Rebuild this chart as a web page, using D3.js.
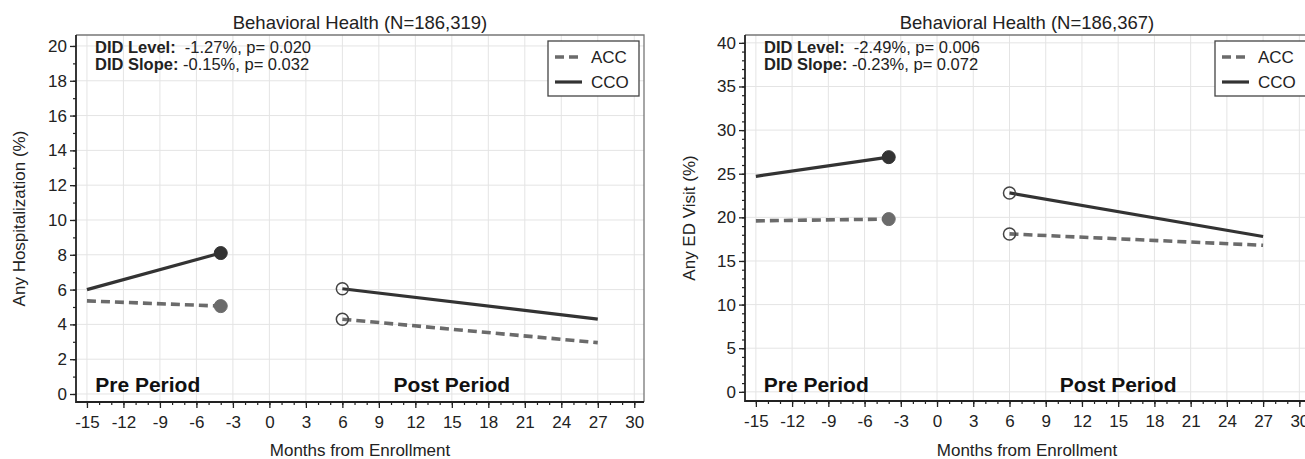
<!DOCTYPE html>
<html><head><meta charset="utf-8">
<script src="https://cdn.jsdelivr.net/npm/d3@7"></script>
<style>
html,body{margin:0;padding:0;background:#fff;}
svg{display:block;font-family:"Liberation Sans",Arial,sans-serif;}
</style></head>
<body>
<svg id="chart" width="1305" height="459"></svg>
<script>
// ---- data ----
const preMonths = [-15, -4];
const postMonths = [6, 27];
const xTicks = [-15,-12,-9,-6,-3,0,3,6,9,12,15,18,21,24,27,30];
const hospACC = [5.35, 5.05, 4.3, 2.95];
const hospCCO = [6.0, 8.1, 6.05, 4.3];
const edACC = [19.6, 19.8, 18.1, 16.8];
const edCCO = [24.7, 26.9, 22.8, 17.8];
const hospYTicks = [0,2,4,6,8,10,12,14,16,18,20];
const edYTicks = [0,5,10,15,20,25,30,35,40];
const seriesNames = ["ACC", "CCO"];
const titles = ["Behavioral Health (N=186,319)", "Behavioral Health (N=186,367)"];
const yLabels = ["Any Hospitalization (%)", "Any ED Visit (%)"];
const didLevel = ["-1.27%, p= 0.020", "-2.49%, p= 0.006"];
const didSlope = ["-0.15%, p= 0.032", "-0.23%, p= 0.072"];
const xLabel = "Months from Enrollment";

const svg = d3.select("#chart");
const panels = [
  {x0:76, x1:644, y0:35, y1:402, ydom:[-0.46,20.63], yTicks:hospYTicks, yMinor:1, acc:hospACC, cco:hospCCO, ylabX:25, legX:548},
  {x0:745, x1:1309, y0:35, y1:401, ydom:[-1.05,40.9], yTicks:edYTicks, yMinor:1, acc:edACC, cco:edCCO, ylabX:695, legX:1215}
];
const ink = "#222";
const accColor = "#6b6b6b";
const ccoColor = "#333";
const fmt = d => String(d);

panels.forEach((p, i) => {
  const g = svg.append("g");
  const x = d3.scaleLinear().domain([-15.9, 30.8]).range([p.x0, p.x1]);
  const y = d3.scaleLinear().domain(p.ydom).range([p.y1, p.y0]);

  // grid
  g.append("g").selectAll("line").data(xTicks).join("line")
    .attr("x1", d=>x(d)).attr("x2", d=>x(d)).attr("y1", p.y0).attr("y2", p.y1)
    .attr("stroke", "#e4e4e4").attr("stroke-width", 1);
  g.append("g").selectAll("line").data(p.yTicks).join("line")
    .attr("y1", d=>y(d)).attr("y2", d=>y(d)).attr("x1", p.x0).attr("x2", p.x1)
    .attr("stroke", "#e4e4e4").attr("stroke-width", 1);

  // frame top/right
  g.append("path").attr("d", `M${p.x0},${p.y0}H${p.x1}V${p.y1}`)
    .attr("fill","none").attr("stroke","#777").attr("stroke-width",1.3);

  // x axis
  const xMinor = d3.range(-15, 31, 1);
  const xa = g.append("g").attr("transform", `translate(0,${p.y1})`)
    .call(d3.axisBottom(x).tickValues(xMinor).tickSize(3).tickFormat(""));
  xa.select(".domain").remove();
  xa.selectAll("line").attr("stroke", ink).attr("stroke-width", 1.2);
  const xb = g.append("g").attr("transform", `translate(0,${p.y1})`)
    .call(d3.axisBottom(x).tickValues(xTicks).tickSize(6).tickPadding(8).tickFormat(fmt));
  xb.select(".domain").remove();
  xb.selectAll("line").attr("stroke", ink).attr("stroke-width", 1.3);
  xb.selectAll("text").attr("font-size", 17).attr("fill", ink).attr("font-family", "Liberation Sans, Arial, sans-serif");

  // y axis
  const yMinorVals = d3.range(0, p.yTicks[p.yTicks.length-1] + 0.001, p.yMinor);
  const ya = g.append("g").attr("transform", `translate(${p.x0},0)`)
    .call(d3.axisLeft(y).tickValues(yMinorVals).tickSize(3).tickFormat(""));
  ya.select(".domain").remove();
  ya.selectAll("line").attr("stroke", ink).attr("stroke-width", 1.2);
  const yb = g.append("g").attr("transform", `translate(${p.x0},0)`)
    .call(d3.axisLeft(y).tickValues(p.yTicks).tickSize(6).tickPadding(3).tickFormat(fmt));
  yb.select(".domain").remove();
  yb.selectAll("line").attr("stroke", ink).attr("stroke-width", 1.3);
  yb.selectAll("text").attr("font-size", 17).attr("fill", ink).attr("font-family", "Liberation Sans, Arial, sans-serif");

  // axis lines left/bottom
  g.append("path").attr("d", `M${p.x0},${p.y0}V${p.y1}H${p.x1}`)
    .attr("fill","none").attr("stroke", ink).attr("stroke-width",1.8);

  // title
  g.append("text").attr("x", (p.x0+p.x1)/2).attr("y", 29).attr("text-anchor","middle")
    .attr("font-size", 18.5).attr("fill", ink).text(titles[i]);
  // y label
  g.append("text").attr("transform", `translate(${p.ylabX},${(p.y0+p.y1)/2}) rotate(-90)`)
    .attr("text-anchor","middle").attr("font-size", 17).attr("fill", ink).text(yLabels[i]);
  // x label
  g.append("text").attr("x", (p.x0+p.x1)/2).attr("y", 456).attr("text-anchor","middle")
    .attr("font-size", 17).attr("fill", ink).text(xLabel);

  // DID annotations
  const t1 = g.append("text").attr("x", p.x0+19).attr("y", 53).attr("font-size", 16.5).attr("fill", ink);
  t1.append("tspan").attr("font-weight","bold").text("DID Level:");
  t1.append("tspan").attr("xml:space","preserve").text("  " + didLevel[i]);
  const t2 = g.append("text").attr("x", p.x0+19).attr("y", 70).attr("font-size", 16.5).attr("fill", ink);
  t2.append("tspan").attr("font-weight","bold").text("DID Slope:");
  t2.append("tspan").text(" " + didSlope[i]);

  // period labels
  g.append("text").attr("x", x(-10)).attr("y", 392).attr("text-anchor","middle")
    .attr("font-size", 21).attr("font-weight","bold").attr("fill","#111").text("Pre Period");
  g.append("text").attr("x", x(15)).attr("y", 392).attr("text-anchor","middle")
    .attr("font-size", 21).attr("font-weight","bold").attr("fill","#111").text("Post Period");

  // series lines
  const line = d3.line().x(d=>x(d[0])).y(d=>y(d[1]));
  const series = [
    {vals:p.acc, color:accColor, dash:"9,5", w:3.6},
    {vals:p.cco, color:ccoColor, dash:null, w:3.2}
  ];
  series.forEach(s => {
    const pre = preMonths.map((m,k)=>[m, s.vals[k]]);
    const post = postMonths.map((m,k)=>[m, s.vals[k+2]]);
    [pre, post].forEach(seg => {
      g.append("path").datum(seg).attr("d", line).attr("fill","none")
        .attr("stroke", s.color).attr("stroke-width", s.w)
        .attr("stroke-dasharray", s.dash);
    });
  });
  series.forEach(s => {
    g.append("circle").attr("cx", x(preMonths[1])).attr("cy", y(s.vals[1])).attr("r", 6.5)
      .attr("fill", s.color).attr("stroke", s.color).attr("stroke-width", 1);
    g.append("circle").attr("cx", x(postMonths[0])).attr("cy", y(s.vals[2])).attr("r", 6)
      .attr("fill", "none").attr("stroke", "#444").attr("stroke-width", 1.5);
  });

  // legend
  const lg = g.append("g").attr("transform", `translate(${p.legX},41)`);
  lg.append("rect").attr("width", 91).attr("height", 55).attr("fill","#fff")
    .attr("stroke","#444").attr("stroke-width",1.3);
  seriesNames.forEach((n, k) => {
    const s = series[k];
    const yy = 16 + k*25;
    lg.append("line").attr("x1", 7).attr("x2", 34).attr("y1", yy).attr("y2", yy)
      .attr("stroke", s.color).attr("stroke-width", s.w).attr("stroke-dasharray", s.dash ? "9,5" : null);
    lg.append("text").attr("x", 43).attr("y", yy+6).attr("font-size", 17).attr("fill", ink).text(n);
  });
});
</script>
</body></html>
